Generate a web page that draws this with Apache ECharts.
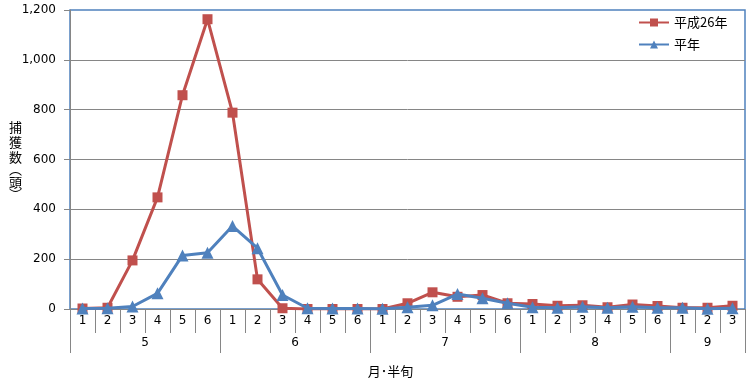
<!DOCTYPE html>
<html><head><meta charset="utf-8">
<script src="https://cdn.jsdelivr.net/npm/echarts@6/dist/echarts.min.js"></script>
<style>html,body{margin:0;padding:0;background:#fff}#c{width:754px;height:379px}</style>
</head><body><div id="c"></div>
<script>
var halfMonths = ['1','2','3','4','5','6','1','2','3','4','5','6','1','2','3','4','5','6','1','2','3','4','5','6','1','2','3'];
var months = ['5','6','7','8','9'];
var monthStarts = [0, 6, 12, 18, 24, 27];
var yTicks = [0, 200, 400, 600, 800, 1000, 1200];
var seriesNames = ['平成26年', '平年'];
var h26 = [2, 5, 195, 448, 858, 1163, 788, 119, 3, 0, 0, 0, 0, 23, 67, 49, 56, 23, 20, 13, 15, 7, 18, 12, 5, 5, 13];
var normal = [2, 3, 10, 63, 215, 226, 333, 244, 56, 3, 2, 2, 1, 7, 15, 60, 43, 23, 7, 5, 9, 5, 9, 5, 5, 1, 3];

var monthCenters = [];
for (var i = 0; i < months.length; i++) monthCenters.push((monthStarts[i] + monthStarts[i + 1]) / 2);

var font = 'Noto Sans CJK JP';
var chart = echarts.init(document.getElementById('c'));
chart.setOption({
  animation: false,
  textStyle: { fontFamily: font },
  grid: { left: 70, right: 9, top: 10, bottom: 70, show: true, borderColor: '#4F81BD', borderWidth: 1.5,
          outerBoundsMode: 'none', containLabel: false },
  legend: {
    orient: 'vertical', left: 633, top: 11, itemWidth: 30, itemHeight: 10, itemGap: 9,
    textStyle: { fontSize: 13, color: '#000', fontFamily: font },
    data: [seriesNames[0], seriesNames[1]]
  },
  xAxis: [
    {
      type: 'category', data: halfMonths, position: 'bottom',
      axisLine: { lineStyle: { color: '#868686', width: 1 } },
      axisTick: { show: true, length: 24, lineStyle: { color: '#868686' } },
      axisLabel: { fontSize: 12, color: '#000', margin: 6, fontFamily: 'DejaVu Sans' },
      splitLine: { show: false }
    },
    {
      type: 'value', min: 0, max: 27, position: 'bottom',
      axisLine: { show: false },
      axisTick: { show: true, length: 44, customValues: monthStarts, lineStyle: { color: '#868686' } },
      axisLabel: {
        fontSize: 12, color: '#000', margin: 28, fontFamily: 'DejaVu Sans',
        customValues: monthCenters,
        formatter: function (v) { var k = monthCenters.indexOf(v); return k >= 0 ? months[k] : ''; }
      },
      splitLine: { show: false },
      name: '月･半旬', nameLocation: 'middle', nameGap: 56, nameMoveOverlap: false,
      nameTextStyle: { fontSize: 13, color: '#000', fontFamily: font, padding: [0, 34, 0, 0] }
    }
  ],
  yAxis: {
    type: 'value', min: yTicks[0], max: yTicks[yTicks.length - 1], interval: 200,
    axisLine: { show: true, lineStyle: { color: '#868686' } },
    axisTick: { show: true, length: 6, lineStyle: { color: '#868686' } },
    axisLabel: {
      fontSize: 12, color: '#000', margin: 14, fontFamily: 'DejaVu Sans',
      formatter: function (v) { return v.toLocaleString('en-US'); }
    },
    splitLine: { show: true, showMaxLine: false, lineStyle: { color: '#868686', width: 1 } },
    name: '{a|捕}\n{a|獲}\n{a|数}\n{p|︵}\n{a|頭}\n{p|︶}', nameLocation: 'middle', nameGap: 48, nameRotate: 0,
    nameMoveOverlap: false,
    nameTextStyle: {
      fontSize: 13, color: '#000', fontFamily: font, align: 'right',
      rich: {
        a: { fontSize: 13, lineHeight: 15, fontFamily: font, color: '#000', align: 'center' },
        p: { fontSize: 13, lineHeight: 10, fontFamily: font, color: '#000', align: 'center' }
      }
    }
  },
  series: [
    {
      name: seriesNames[0], type: 'line', data: h26, xAxisIndex: 0,
      symbol: 'rect', symbolSize: 10, showAllSymbol: true,
      lineStyle: { color: '#C0504D', width: 3 },
      itemStyle: { color: '#C0504D' }, z: 2
    },
    {
      name: seriesNames[1], type: 'line', data: normal, xAxisIndex: 0,
      symbol: 'triangle', symbolSize: 12, showAllSymbol: true,
      lineStyle: { color: '#4F81BD', width: 3 },
      itemStyle: { color: '#4F81BD' }, z: 3
    }
  ]
});
</script></body></html>
